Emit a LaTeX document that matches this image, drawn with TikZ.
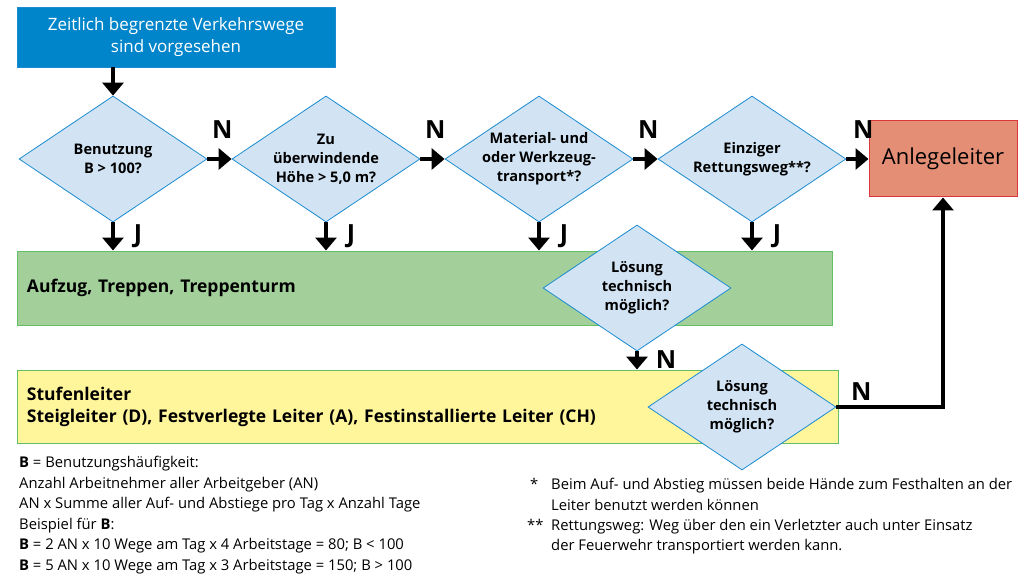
\documentclass[tikz,border=0pt]{standalone}
\usepackage{fontspec}
\setmainfont{Open Sans}
\usetikzlibrary{shapes.geometric,arrows.meta}
\definecolor{kblau}{RGB}{0,133,202}
\definecolor{kraute}{RGB}{210,228,244}
\definecolor{krand}{RGB}{26,139,208}
\definecolor{kgruen}{RGB}{163,208,154}
\definecolor{kgrand}{RGB}{100,190,100}
\definecolor{kgelb}{RGB}{255,245,155}
\definecolor{klachs}{RGB}{228,143,117}
\definecolor{krot}{RGB}{217,55,58}
\tikzset{
frage/.style={diamond,draw=krand,fill=kraute,line width=0.8pt,aspect=1.5,inner sep=-2pt,
  minimum width=188pt,minimum height=126pt,align=center,font=\bfseries\fontsize{14.6}{19}\selectfont},
pfeil/.style={line width=3.8pt,-{Triangle[length=13pt,width=21pt]}},
marke/.style={font=\bfseries\fontsize{25}{25}\selectfont},
kasten/.style={draw=kgrand,line width=1pt,inner xsep=10pt,align=left,font=\bfseries\fontsize{17.5}{22}\selectfont},
fuss/.style={inner sep=0pt,align=left,font=\fontsize{14.8}{20.5}\selectfont}
}
\begin{document}
\begin{tikzpicture}[x=1pt,y=-1pt]
\useasboundingbox(0,0)rectangle(1033,580);
\pgfmathsetmacro{\kxstep}{213}
\node[fill=kblau,draw=krand,minimum width=318pt,minimum height=60pt,align=center,text=white,
  font=\fontsize{17}{22}\selectfont](start)at(176,37){Zeitlich begrenzte Verkehrswege\\sind vorgesehen};
\node[fill=klachs,draw=krot,line width=1pt,minimum width=148pt,minimum height=76pt,
  font=\fontsize{22}{22}\selectfont](anlege)at(943,159){Anlegeleiter};
\node[kasten,fill=kgruen,text width=795pt,minimum height=74pt](aufzug)at(424.5,288){Aufzug, Treppen, Treppenturm};
\node[kasten,fill=kgelb,text width=801pt,minimum height=73pt](stufen)at(427.5,406.5){Stufenleiter\\Steigleiter (D), Festverlegte Leiter (A), Festinstallierte Leiter (CH)};
\foreach \ktxt [count=\ki] in {{Benutzung\\B > 100?},{Zu\\überwindende\\Höhe > 5,0 m?},{Material- und\\oder Werkzeug-\\transport*?},{Einziger\\Rettungsweg**?}}{\node[frage](f\ki)at(113+\ki*\kxstep-\kxstep,159){\ktxt};}
\node[frage](loes1)at(637,288){Lösung\\technisch\\möglich?};
\node[frage](loes2)at(742,407){Lösung\\technisch\\möglich?};
\draw[pfeil](start.south-|f1.north)--(f1.north);
\foreach \ki/\kj in {1/2,2/3,3/4}{\draw[pfeil](f\ki.east)--(f\kj.west);\node[marke](n\ki)at(f\ki.east)[xshift=15pt,yshift=29pt]{N};}
\draw[pfeil](f4.east)--(anlege.west);
\node[marke](n4)at(f4.east)[xshift=17pt,yshift=29pt]{N};
\foreach \ki in {1,2,3,4}{\draw[pfeil](f\ki.south)--(f\ki.south|-aufzug.north);\node[marke](j\ki)at(f\ki.south)[xshift=25pt,yshift=-14pt]{J};}
\draw[pfeil](loes1.south)--(loes1.south|-stufen.north);
\node[marke](n5)at(loes1.south)[xshift=29pt,yshift=-8pt]{N};
\draw[line width=3.2pt,-{Triangle[length=13pt,width=21pt]}](loes2.east)-|(anlege.south);
\node[marke](n6)at(loes2.east)[xshift=25pt,yshift=15pt]{N};
\node[fuss,anchor=north west](legende)at(19,456){\textbf{B} = Benutzungshäufigkeit:\\Anzahl Arbeitnehmer aller Arbeitgeber (AN)\\AN x Summe aller Auf- und Abstiege pro Tag x Anzahl Tage\\Beispiel für \textbf{B}:\\\textbf{B} = 2 AN x 10 Wege am Tag x 4 Arbeitstage = 80; B < 100\\\textbf{B} = 5 AN x 10 Wege am Tag x 3 Arbeitstage = 150; B > 100};
\node[fuss,anchor=north west](stern1)at(530,478){*};
\node[fuss,anchor=north west](fn1)at(551,478){Beim Auf- und Abstieg müssen beide Hände zum Festhalten an der\\Leiter benutzt werden können};
\node[fuss,anchor=north west](stern2)at(527,519){**};
\node[fuss,anchor=north west](fn2)at(551,519){Rettungsweg: Weg über den ein Verletzter auch unter Einsatz\\der Feuerwehr transportiert werden kann.};
\end{tikzpicture}
\end{document}
